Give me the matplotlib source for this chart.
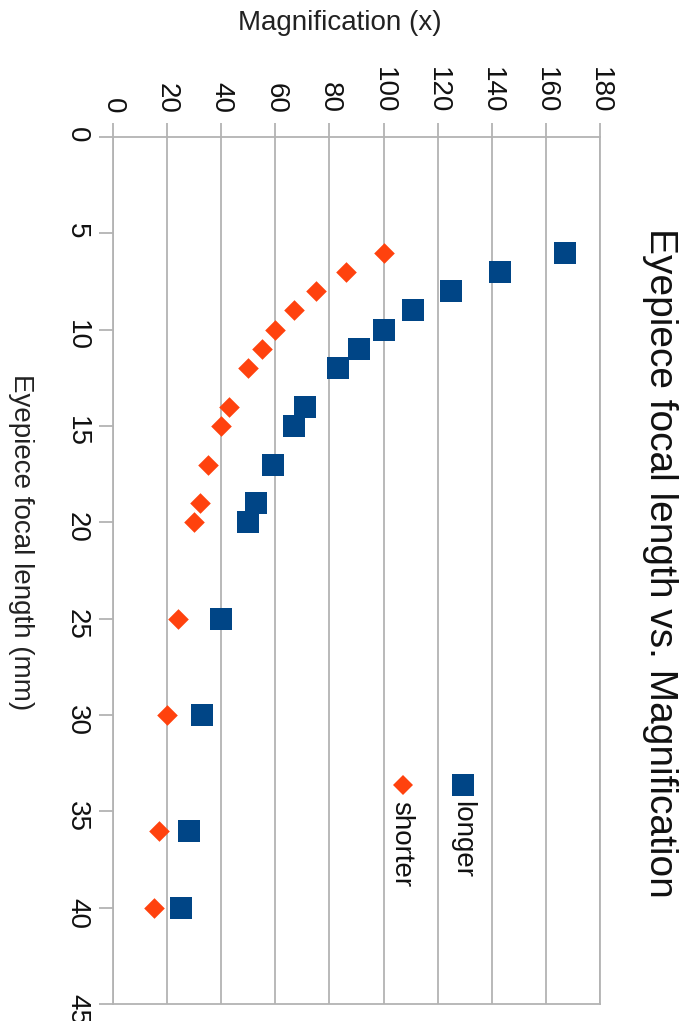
import matplotlib
matplotlib.use("Agg")
import matplotlib.pyplot as plt

# Data (rotated chart: magnification horizontal, focal length vertical)
focal_lengths = [6, 7, 8, 9, 10, 11, 12, 14, 15, 17, 19, 20, 25, 30, 36, 40]
mag_longer = [167, 143, 125, 111, 100, 91, 83, 71, 67, 59, 53, 50, 40, 33, 28, 25]
mag_shorter = [100, 86, 75, 67, 60, 55, 50, 43, 40, 35, 32, 30, 24, 20, 17, 15]
mag_ticks = [0, 20, 40, 60, 80, 100, 120, 140, 160, 180]
focal_ticks = [0, 5, 10, 15, 20, 25, 30, 35, 40, 45]
series_names = ["longer", "shorter"]
title = "Eyepiece focal length vs. Magnification"
x_label = "Magnification (x)"
y_label = "Eyepiece focal length (mm)"

plt.rcParams['font.family'] = ['Liberation Sans', 'DejaVu Sans']

W, H = 686, 1021
fig = plt.figure(figsize=(W / 100, H / 100), dpi=100)

def fx(px):
    return px / W

def fy(py):
    return 1 - py / H

left, right, top, bottom = 113, 600, 137, 1004
ax = fig.add_axes([fx(left), fy(bottom), (right - left) / W, (bottom - top) / H])

BLUE = "#004586"
ORANGE = "#ff420e"
GRID = "#b3b3b3"

ax.scatter(mag_longer, focal_lengths, marker="s", s=16.5 ** 2, color=BLUE, zorder=3, linewidths=0)
ax.scatter(mag_shorter, focal_lengths, marker="D", s=10.5 ** 2, color=ORANGE, zorder=3, linewidths=0)

ax.set_xlim(0, 180)
ax.set_ylim(45, 0)
ax.set_xticks(mag_ticks)
ax.set_yticks(focal_ticks)
ax.xaxis.tick_top()
ax.grid(axis="x", color=GRID, linewidth=1.3)
ax.set_axisbelow(True)
for sp in ax.spines.values():
    sp.set_color(GRID)
    sp.set_linewidth(1.3)
ax.tick_params(axis="both", direction="out", length=10, width=1.3, color=GRID,
               labelsize=20, labelcolor="#111111")
ax.tick_params(axis="x", pad=7)
ax.tick_params(axis="y", pad=6.5)
for lab in ax.get_xticklabels():
    lab.set_rotation(-90)
for lab in ax.get_yticklabels():
    lab.set_rotation(-90)

# axis labels and title
fig.text(fx(340), fy(23), x_label, ha="center", va="center", fontsize=20, color="#222222")
fig.text(fx(21), fy(542), y_label, ha="center", va="center", rotation=-90, fontsize=20, color="#222222")
fig.text(fx(660), fy(563), title, ha="center", va="center", rotation=-90, fontsize=28, color="#111111")

# legend (rotated)
fig.lines.append(plt.Line2D([fx(463)], [fy(785)], marker="s", markersize=16, color=BLUE,
                            linestyle="none", markeredgewidth=0, transform=fig.transFigure))
fig.lines.append(plt.Line2D([fx(403)], [fy(785)], marker="D", markersize=10.5, color=ORANGE,
                            linestyle="none", markeredgewidth=0, transform=fig.transFigure))
fig.text(fx(462), fy(801), series_names[0], ha="center", va="top", rotation=-90, fontsize=20, color="#111111")
fig.text(fx(401), fy(801), series_names[1], ha="center", va="top", rotation=-90, fontsize=20, color="#111111")

fig.savefig("out.png", dpi=100)
